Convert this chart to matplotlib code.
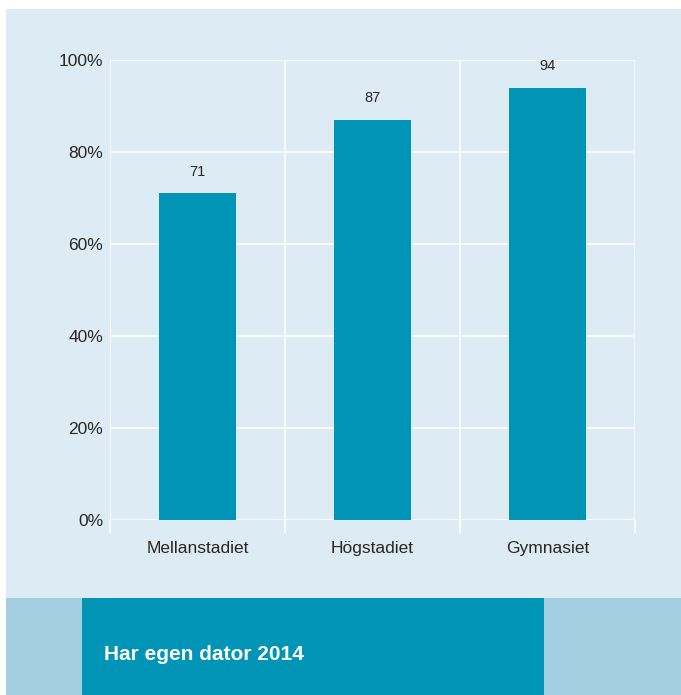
import matplotlib
matplotlib.use("Agg")
import matplotlib.pyplot as plt
from matplotlib.patches import Rectangle

categories = ["Mellanstadiet", "Högstadiet", "Gymnasiet"]
values = [71, 87, 94]
yticks = [0, 20, 40, 60, 80, 100]
title = "Har egen dator 2014"

BG = "#dcebf4"
BAR = "#0094b7"
BAND = "#a3cde0"
TXT = "#2b2622"

plt.rcParams['font.family'] = ['Liberation Sans', 'DejaVu Sans']

W, H = 681, 695
fig = plt.figure(figsize=(W / 100, H / 100), dpi=100, facecolor="white")

def fx(px):
    return px / W

def fy(py):
    return 1 - py / H

# background panels
fig.patches.append(Rectangle((fx(6), fy(598)), 1 - fx(6), fy(9) - fy(598),
                             transform=fig.transFigure, facecolor=BG, edgecolor="none", zorder=-2))
fig.patches.append(Rectangle((fx(6), 0), 1 - fx(6), fy(598),
                             transform=fig.transFigure, facecolor=BAND, edgecolor="none", zorder=-2))
fig.patches.append(Rectangle((fx(82), 0), fx(544) - fx(82), fy(598),
                             transform=fig.transFigure, facecolor=BAR, edgecolor="none", zorder=-1))
fig.text(fx(104), fy(654), title, color="white", fontsize=15, fontweight="bold",
         ha="left", va="center")

ax = fig.add_axes([fx(110), fy(520), fx(635) - fx(110), fy(60) - fy(520)])
ax.set_zorder(2)
ax.set_facecolor("none")

x = list(range(len(categories)))
ax.bar(x, values, width=0.435, color=BAR, zorder=3)
for xi, v in zip(x, values):
    ax.annotate(str(v), (xi, v), xytext=(0, 15.5), textcoords="offset points",
                ha="center", va="center", fontsize=10.5, color=TXT)

ax.set_xlim(-0.5, len(categories) - 0.5)
ax.set_ylim(0, 100)
ax.set_yticks(yticks)
ax.set_yticklabels([f"{t}%" for t in yticks])

ax.set_xticks([i - 0.5 for i in range(len(categories) + 1)])
ax.set_xticklabels([])
ax.set_xticks(x, minor=True)
ax.set_xticklabels(categories, minor=True)

ax.tick_params(axis="x", which="major", length=9.5, width=1.2, color="white", direction="out")
ax.tick_params(axis="x", which="minor", length=0, pad=15, labelsize=12.5, labelcolor=TXT)
ax.tick_params(axis="y", length=0, pad=5, labelsize=12.5, labelcolor=TXT)

ax.grid(True, which="major", color="white", linewidth=1.1)
ax.set_axisbelow(True)
for s in ax.spines.values():
    s.set_visible(False)

fig.savefig("out.png", dpi=100, facecolor="white")
